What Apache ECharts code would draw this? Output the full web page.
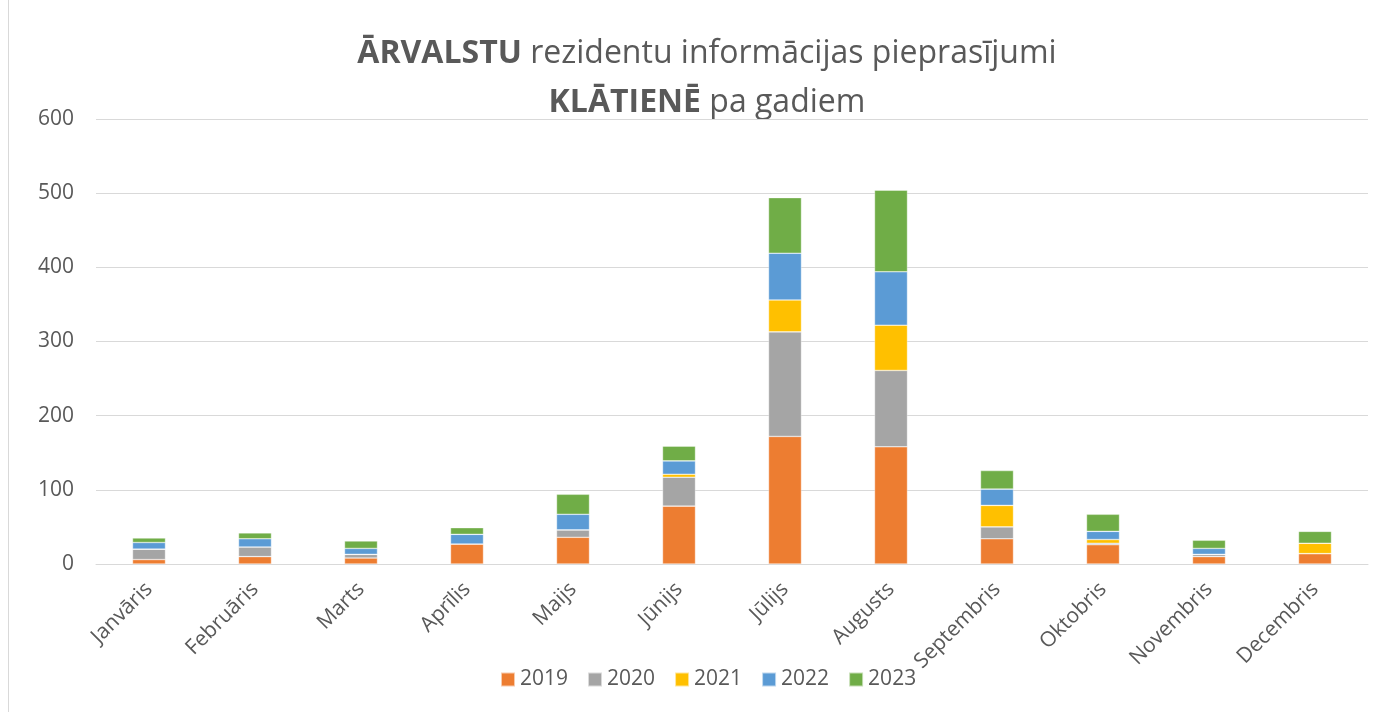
<!DOCTYPE html>
<html>
<head>
<meta charset="utf-8">
<script src="https://cdn.jsdelivr.net/npm/echarts@6/dist/echarts.min.js"></script>
<style>
  html, body { margin: 0; padding: 0; background: #fff; }
  #chart { width: 1393px; height: 712px; }
</style>
</head>
<body>
<div id="chart"></div>
<script>
  // mēneši un vērtības pa gadiem
  var months = ['Janvāris', 'Februāris', 'Marts', 'Aprīlis', 'Maijs', 'Jūnijs', 'Jūlijs', 'Augusts', 'Septembris', 'Oktobris', 'Novembris', 'Decembris']
  var years = ['2019', '2020', '2021', '2022', '2023']
  var y2019 = [6, 10, 8, 27, 36, 78, 172, 158, 34, 26, 10, 14]
  var y2020 = [14, 13, 5, 0, 10, 39, 141, 103, 16, 2, 3, 0]
  var y2021 = [0, 0, 0, 0, 0, 4, 43, 61, 29, 5, 0, 14]
  var y2022 = [9, 11, 8, 13, 21, 18, 63, 72, 22, 11, 8, 0]
  var y2023 = [6, 8, 10, 9, 27, 20, 75, 110, 25, 23, 11, 16]
  var colors = ['#ED7D31', '#A5A5A5', '#FFC000', '#5B9BD5', '#70AD47']

  var font = '"Open Sans", "Liberation Sans", sans-serif'
  var textColor = '#595959'

  var values = [y2019, y2020, y2021, y2022, y2023]
  var series = years.map(function (name, i) {
    return {
      name: name,
      type: 'bar',
      stack: 'total',
      barWidth: 33,
      itemStyle: {
        color: colors[i],
        borderColor: 'rgba(255,255,255,0.6)',
        borderWidth: 0.6
      },
      data: values[i]
    }
  })

  var option = {
    animation: false,
    color: colors,
    legend: {
      data: years,
      left: 500,
      top: 669,
      padding: 0,
      itemWidth: 14,
      itemHeight: 14,
      itemGap: 19,
      icon: 'rect',
      textStyle: { fontFamily: font, fontSize: 21, color: textColor }
    },
    grid: {
      left: 96,
      right: 25,
      top: 119,
      bottom: 148,
      containLabel: false
    },
    xAxis: {
      type: 'category',
      data: months,
      axisLine: { lineStyle: { color: '#D9D9D9', width: 1 } },
      axisTick: { show: false },
      axisLabel: {
        rotate: 45,
        margin: 22,
        fontFamily: font,
        fontSize: 21,
        color: textColor,
        interval: 0
      }
    },
    yAxis: {
      type: 'value',
      min: 0,
      max: 600,
      interval: 100,
      axisLine: { show: false },
      axisTick: { show: false },
      axisLabel: {
        margin: 22,
        fontFamily: font,
        fontSize: 21,
        color: textColor
      },
      splitLine: { lineStyle: { color: '#D9D9D9', width: 1 } }
    },
    graphic: [
      {
        type: 'line',
        shape: { x1: 8.5, y1: 0, x2: 8.5, y2: 712 },
        style: { stroke: '#D9D9D9', lineWidth: 1 }
      },
      {
        // virsraksts divās rindās ar treknām daļām
        type: 'text',
        x: 707,
        y: 29,
        style: {
          text: '{b|ĀRVALSTU}{n| rezidentu informācijas pieprasījumi}\n{b|KLĀTIENĒ}{n| pa gadiem}',
          align: 'center',
          verticalAlign: 'top',
          fontFamily: font,
          fontSize: 32,
          fill: textColor,
          lineHeight: 49,
          rich: {
            b: { fontFamily: font, fontSize: 32, fontWeight: 'bold', fill: textColor, lineHeight: 49 },
            n: { fontFamily: font, fontSize: 32, fontWeight: 'normal', fill: textColor, lineHeight: 49 }
          }
        }
      }
    ],
    series: series
  }

  var chart = echarts.init(document.getElementById('chart'))
  chart.setOption(option)
  window.addEventListener('resize', function () {
    chart.resize()
  })
</script>
</body>
</html>
